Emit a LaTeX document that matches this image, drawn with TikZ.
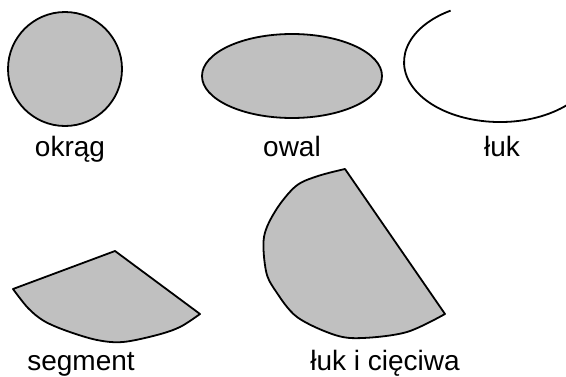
\documentclass[tikz,border=0pt]{standalone}
\usepackage{fontspec}
\setmainfont{Liberation Sans}
\definecolor{shapegray}{RGB}{192,192,192}
\begin{document}
\begin{tikzpicture}[x=1pt,y=1pt,
  shp/.style={draw=black,fill=shapegray,line width=1.8pt,line join=round},
  lbl/.style={anchor=base,font=\fontsize{28}{32}\selectfont,inner sep=0pt}]
\useasboundingbox (0,0) rectangle (566,376);
\clip (0,0) rectangle (566,376);
% circle
\node[shp,circle,minimum size=114pt,inner sep=0pt] (okrag) at (65,307) {};
% oval
\draw[shp] (292,300) ellipse [x radius=90, y radius=42];
\coordinate (owalc) at (292,300);
% arc
\draw[line width=1.8pt] (450.6,365.4) arc[start angle=121, end angle=345, x radius=96, y radius=60];
% segment
\draw[shp] (115,125) -- plot[smooth,tension=0.55] coordinates {(200,62) (180,49) (157,41) (123,34) (97,36) (67,45) (44,55) (28,68) (13,87)} -- cycle;
% arc and chord
\draw[shp] (445,62) -- plot[smooth,tension=0.55] coordinates {(345,207) (318,200) (296,190) (276,166) (264,139) (266,105) (275,86) (297,59) (335,41) (363,38) (407,44) (445,62)} -- cycle;
% labels
\node[lbl] (t1) at (70,220) {okrąg};
\node[lbl] (t2) at (292,220) {owal};
\node[lbl] (t3) at (502,220) {łuk};
\node[lbl] (t4) at (81,6) {segment};
\node[lbl] (t5) at (385,6) {łuk i cięciwa};
\end{tikzpicture}
\end{document}
